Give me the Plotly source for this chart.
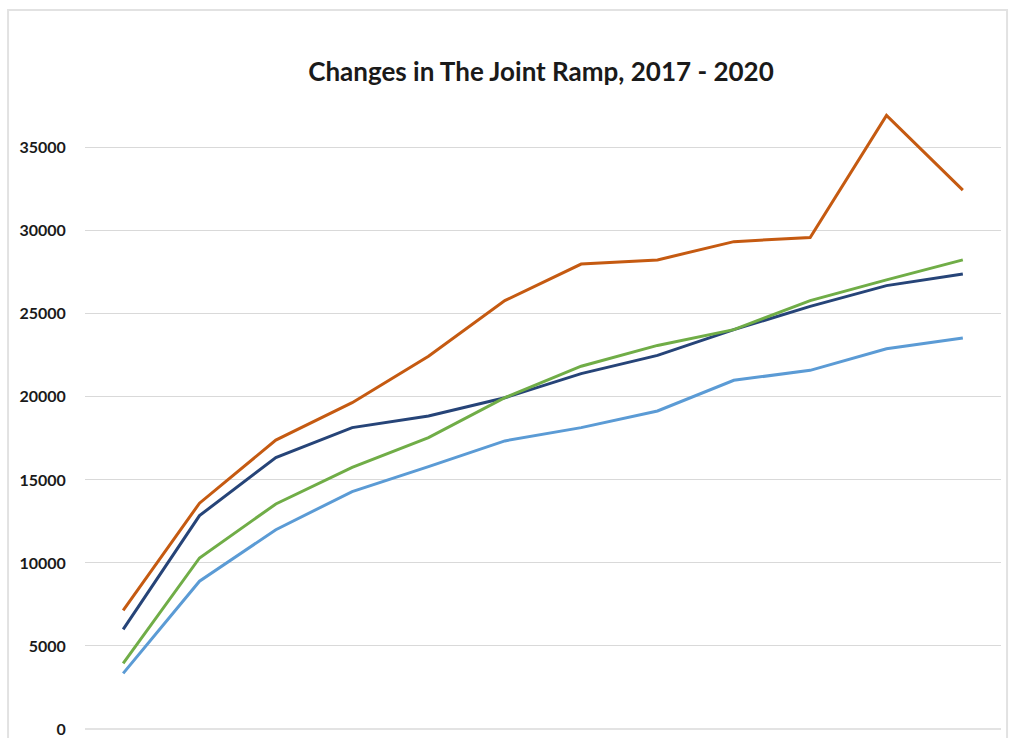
import plotly.graph_objects as go

categories = ["P1", "P2", "P3", "P4", "P5", "P6", "P7", "P8", "P9", "P10", "P11", "P12"]
orange_series = [7150, 13600, 17400, 19650, 22450, 25800, 28000, 28250, 29350, 29600, 36950, 32450]
navy_series = [6000, 12850, 16350, 18150, 18850, 19950, 21400, 22500, 24050, 25450, 26700, 27400]
green_series = [3950, 10300, 13550, 15750, 17550, 19950, 21850, 23100, 24050, 25800, 27050, 28250]
lightblue_series = [3350, 8900, 12000, 14300, 15800, 17350, 18150, 19150, 21000, 21600, 22900, 23550]
y_ticks = [0, 5000, 10000, 15000, 20000, 25000, 30000, 35000]
y_tick_labels = ["0", "5000", "10000", "15000", "20000", "25000", "30000", "35000"]

series = [
    ("Series 1", orange_series, "#C55A11"),
    ("Series 2", navy_series, "#264478"),
    ("Series 3", green_series, "#70AD47"),
    ("Series 4", lightblue_series, "#5B9BD5"),
]

fig = go.Figure()
for name, vals, color in series:
    fig.add_trace(go.Scatter(x=categories, y=vals, mode="lines", name=name,
                             line=dict(color=color, width=3)))

fig.update_layout(
    width=1015, height=738,
    margin=dict(l=85, r=14, t=98, b=9, autoexpand=False),
    paper_bgcolor="white", plot_bgcolor="white",
    showlegend=False,
    title=dict(text="<b>Changes in The Joint Ramp, 2017 - 2020</b>",
               x=0.533, xanchor="center", y=0.902, yanchor="middle",
               font=dict(family="Lato", size=26, color="#1a1a1a")),
    xaxis=dict(type="category", range=[-0.5, 11.5], showticklabels=False,
               showgrid=False, zeroline=False, showline=False, ticks="",
               automargin=False),
    yaxis=dict(range=[0, 38000], tickvals=y_ticks, ticktext=y_tick_labels,
               showgrid=True, gridcolor="#d9d9d9", gridwidth=1, zeroline=True,
               zerolinecolor="#e3e3e3", zerolinewidth=2, showline=False,
               ticks="outside", ticklen=15, tickcolor="white", automargin=False,
               tickfont=dict(family="Lato", size=16, color="#1a1a1a", weight="bold")),
    shapes=[
        dict(type="path", xref="paper", yref="paper",
             path="M -0.084,-0.1 L -0.084,1.1395 L 1.0066,1.1395 L 1.0066,-0.1",
             line=dict(color="#e2e2e2", width=2)),
    ],
)

fig.write_html("out.html")
